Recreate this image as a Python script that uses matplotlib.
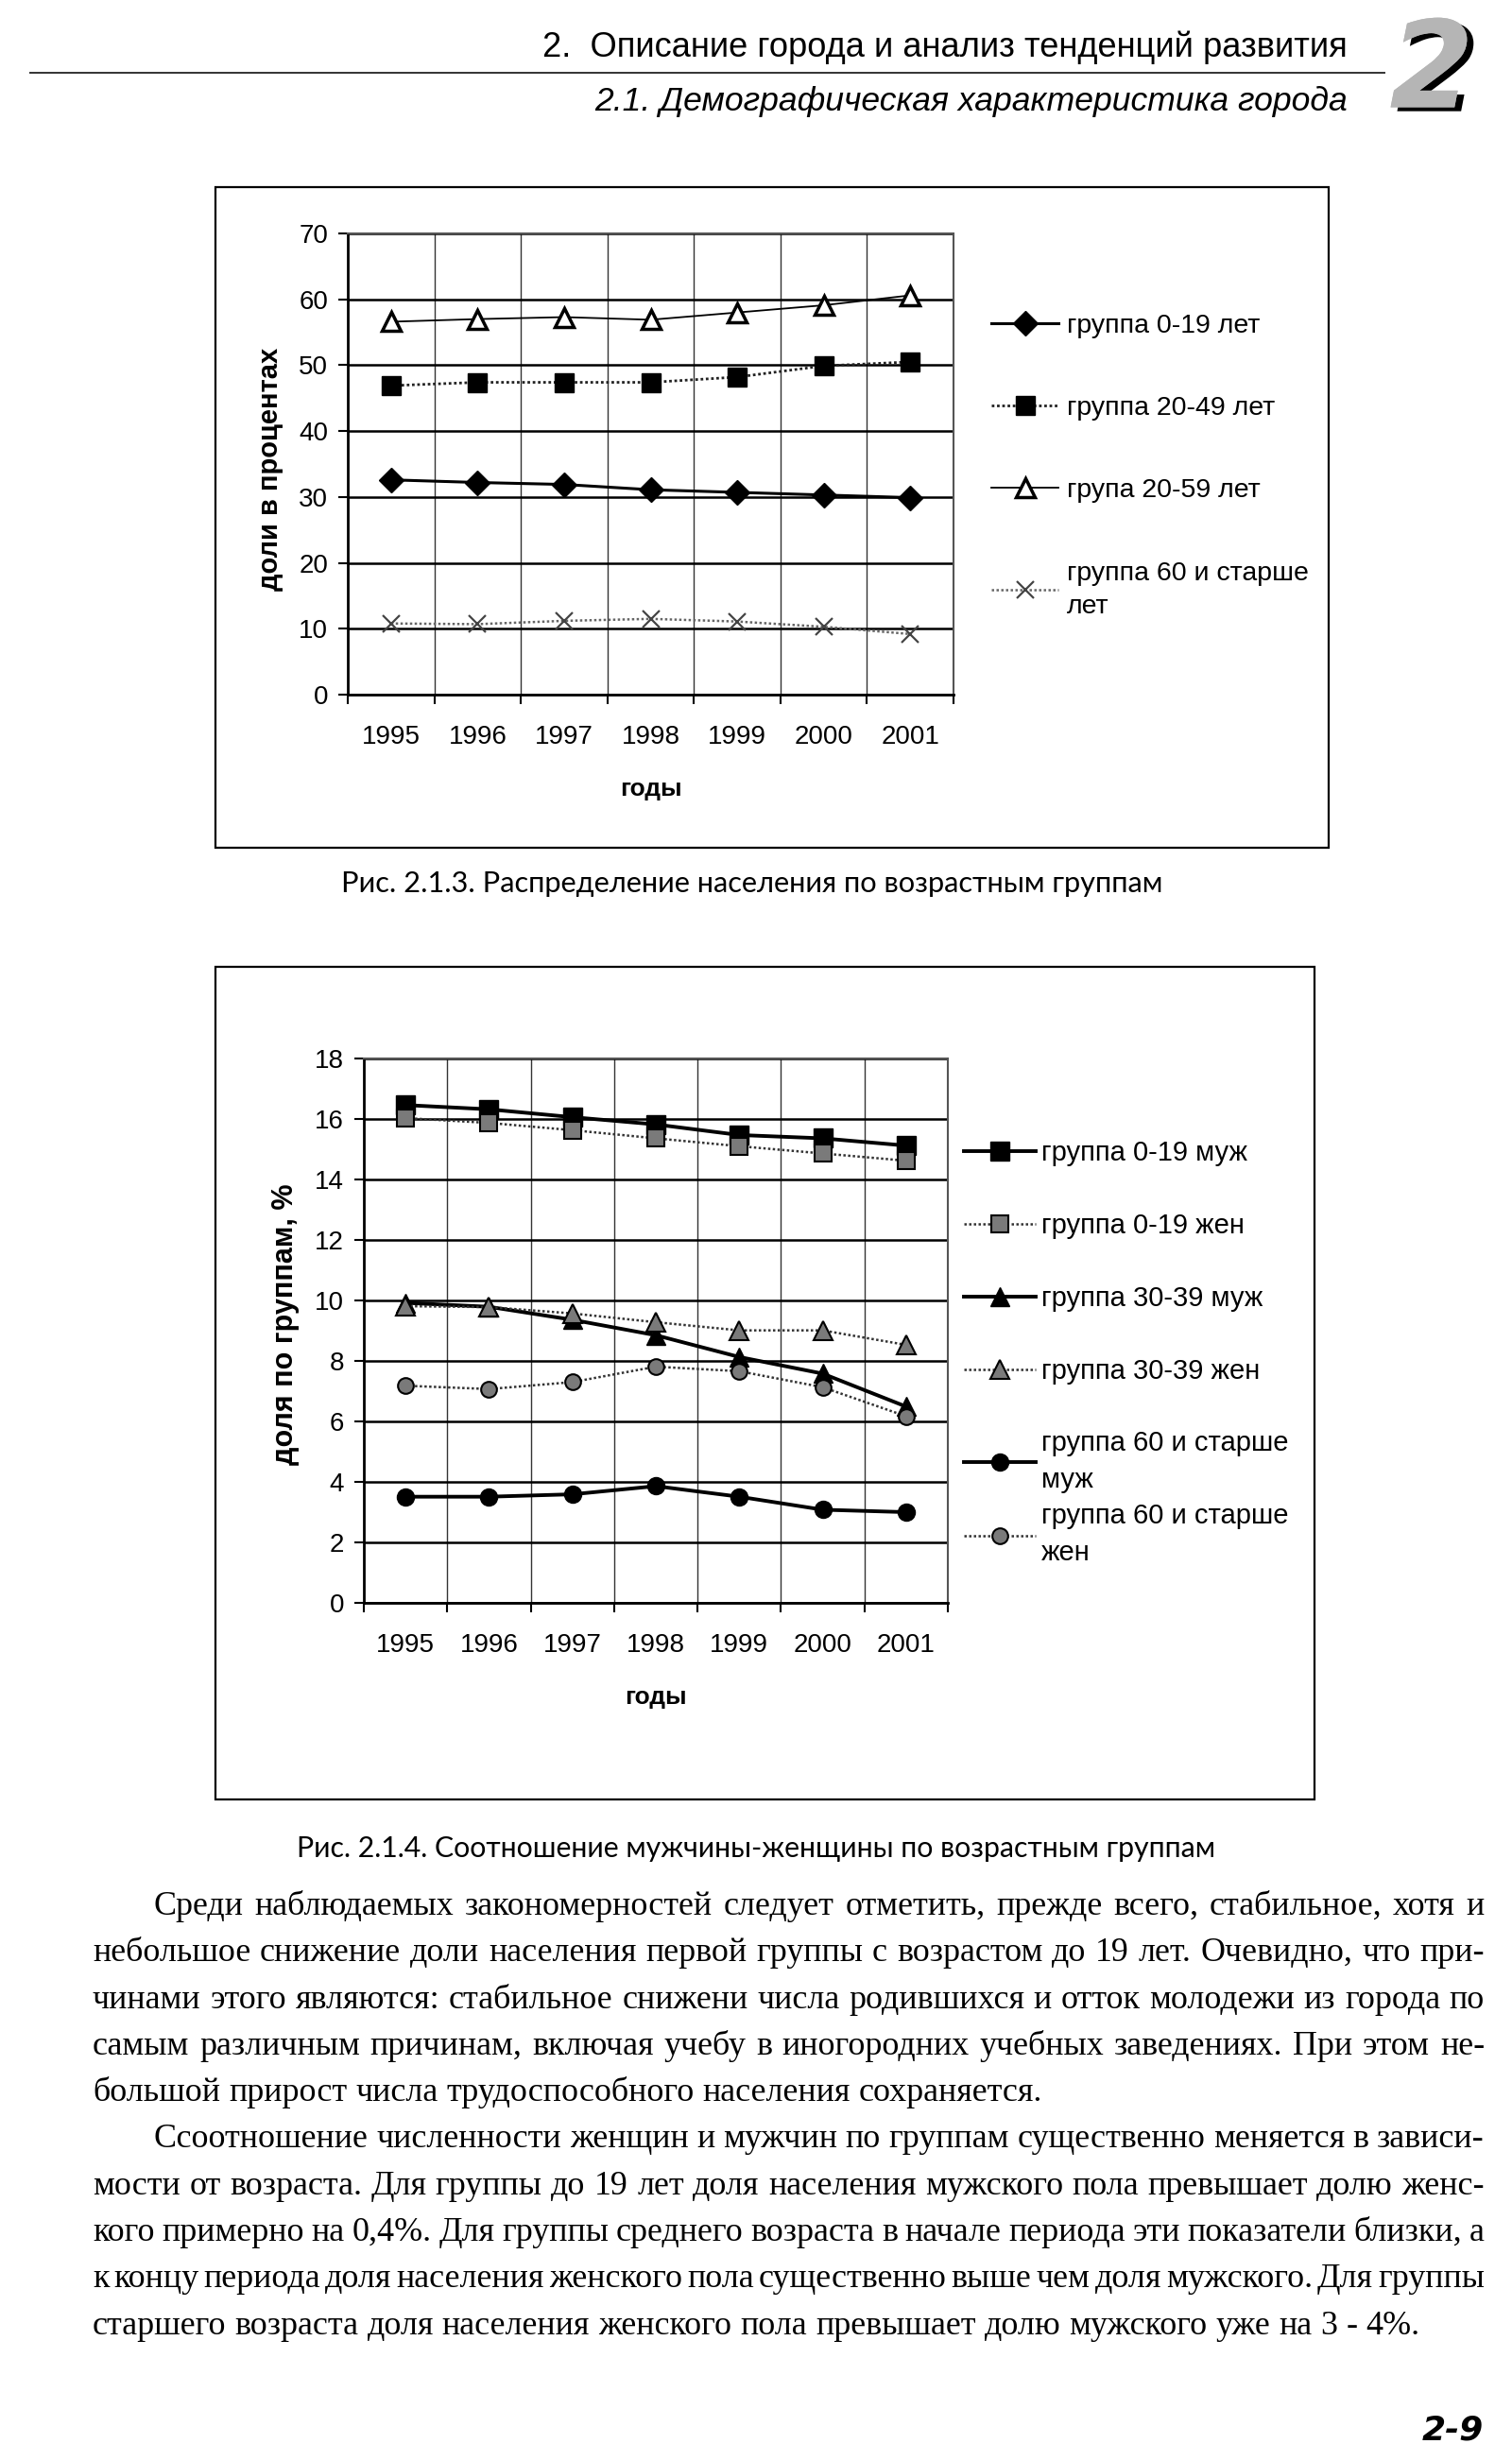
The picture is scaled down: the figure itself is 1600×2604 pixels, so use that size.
import numpy as np
import matplotlib
matplotlib.use('Agg')
import matplotlib.pyplot as plt
from matplotlib.patches import Rectangle
import matplotlib.patheffects as pe

# page size in pixels (dpi 100)
W, H = 1600, 2604

years = ['1995', '1996', '1997', '1998', '1999', '2000', '2001']

# Рис. 2.1.3 - доли возрастных групп, %
age_0_19 = [32.6, 32.2, 31.9, 31.1, 30.7, 30.3, 29.9]
age_20_49 = [46.9, 47.4, 47.4, 47.4, 48.2, 49.9, 50.5]
age_20_59 = [56.6, 57.0, 57.3, 56.9, 58.0, 59.1, 60.6]
age_60 = [10.8, 10.7, 11.2, 11.5, 11.1, 10.3, 9.2]
labels1 = ['группа 0-19 лет', 'группа 20-49 лет', 'група 20-59 лет',
           'группа 60 и старше\nлет']

# Рис. 2.1.4 - мужчины / женщины по группам, %
m_0_19 = [16.46, 16.32, 16.06, 15.82, 15.47, 15.36, 15.12]
f_0_19 = [16.03, 15.87, 15.63, 15.36, 15.10, 14.86, 14.62]
m_30_39 = [9.92, 9.79, 9.36, 8.85, 8.13, 7.58, 6.49]
f_30_39 = [9.81, 9.78, 9.57, 9.28, 9.01, 9.01, 8.53]
m_60 = [3.51, 3.51, 3.59, 3.86, 3.51, 3.08, 3.00]
f_60 = [7.18, 7.07, 7.30, 7.81, 7.66, 7.13, 6.17]
labels2 = ['группа 0-19 муж', 'группа 0-19 жен', 'группа 30-39 муж',
           'группа 30-39 жен', 'группа 60 и старше\nмуж', 'группа 60 и старше\nжен']

header1 = '2.  Описание города и анализ тенденций развития'
header2 = '2.1. Демографическая характеристика города'
caption1 = 'Рис. 2.1.3. Распределение населения по возрастным группам'
caption2 = 'Рис. 2.1.4. Соотношение мужчины-женщины по возрастным группам'
page_no = '2-9'

par1 = [
    'Среди наблюдаемых закономерностей следует отметить, прежде всего, стабильное, хотя и',
    'небольшое снижение доли населения первой группы с возрастом до 19 лет. Очевидно, что при-',
    'чинами этого являются: стабильное снижени числа родившихся и отток молодежи из города по',
    'самым различным причинам, включая учебу в иногородних учебных заведениях. При этом не-',
    'большой прирост числа трудоспособного населения сохраняется.',
]
par2 = [
    'Ссоотношение численности женщин и мужчин по группам существенно меняется в зависи-',
    'мости от возраста. Для группы до 19 лет доля населения мужского пола превышает долю женс-',
    'кого примерно на 0,4%. Для группы среднего возраста в начале периода эти показатели близки, а',
    'к концу периода доля населения женского пола существенно выше чем доля мужского. Для группы',
    'старшего возраста доля населения женского пола превышает долю мужского уже на 3 - 4%.',
]

plt.rcParams['font.family'] = ['Liberation Sans', 'DejaVu Sans']

fig = plt.figure(figsize=(W / 100, H / 100), dpi=100)
renderer = fig.canvas.get_renderer()


def fx(px):
    return px / W


def fy(py):
    return 1 - py / H


def text_w(s, fs, **kw):
    t = fig.text(0, 0, s, fontsize=fs, **kw)
    w = t.get_window_extent(renderer).width
    t.remove()
    return w


def fit_fs(s, target, base, **kw):
    return base * target / text_w(s, base, **kw)


def setup_axes(ax, ymax, ystep):
    x = np.arange(len(years))
    ax.set_xlim(-0.5, len(years) - 0.5)
    ax.set_ylim(0, ymax)
    ax.set_xticks(x)
    ax.set_xticklabels(years)
    ax.set_xticks(np.arange(len(years) + 1) - 0.5, minor=True)
    ax.set_yticks(np.arange(0, ymax + 1, ystep))
    ax.tick_params(axis='x', which='major', length=0, pad=23, labelsize=20)
    ax.tick_params(axis='x', which='minor', length=7, width=1.5, direction='out')
    ax.tick_params(axis='y', length=7, width=1.5, direction='out', pad=8, labelsize=20)
    ax.grid(axis='y', color='black', lw=1.8)
    ax.grid(axis='x', which='minor', color='#333333', lw=1.0)
    ax.set_axisbelow(True)
    for s in ['left', 'bottom']:
        ax.spines[s].set_linewidth(2)
    for s in ['top', 'right']:
        ax.spines[s].set_linewidth(1.5)
        ax.spines[s].set_linestyle((0, (1, 1)))
        ax.spines[s].set_color('#555555')


def box(x0, y0, x1, y1):
    fig.add_artist(Rectangle((fx(x0), fy(y1)), fx(x1) - fx(x0), fy(y0) - fy(y1),
                             transform=fig.transFigure, fill=False, lw=1.6, ec='black'))


def add_legend(ax, handles, labels, x0, ytop, fs, spacing, hlen, pad, lsp=1.2):
    leg = ax.legend(handles, labels, loc='upper left', bbox_to_anchor=(fx(x0), fy(ytop)),
                    bbox_transform=fig.transFigure, frameon=False, borderpad=0,
                    borderaxespad=0, handlelength=hlen, handletextpad=pad,
                    labelspacing=spacing, fontsize=fs)
    for t in leg.get_texts():
        t.set_linespacing(lsp)
    return leg


x = np.arange(len(years))

# ---------- chart 1 ----------
box(228, 198, 1406, 897)
ax1 = fig.add_axes([fx(368), fy(735), (1009 - 368) / W, (735 - 247) / H])
setup_axes(ax1, 70, 10)
h1 = []
h1 += ax1.plot(x, age_0_19, color='black', lw=2.2, marker='D', ms=13)
h1 += ax1.plot(x, age_20_49, color='#222222', lw=2.0, ls=(0, (1, 1)), marker='s', ms=15,
               mfc='black', mec='black')
h1 += ax1.plot(x, age_20_59, color='black', lw=1.3, marker='^', ms=15, mfc='white',
               mec='black', mew=2.5)
h1 += ax1.plot(x, age_60, color='#666666', lw=1.8, ls=(0, (1, 1)), marker='x', ms=13,
               mew=1.6, mec='#444444')
ax1.set_ylabel('доли в процентах', fontsize=21, fontweight='bold')
ax1.yaxis.set_label_coords((286 - 368) / 641, 0.49)
ax1.yaxis.label.set_va('center')
ax1.set_xlabel('годы', fontsize=19, fontweight='bold')
ax1.xaxis.set_label_coords(0.5, (735 - 835) / 488)
ax1.xaxis.label.set_va('center')
add_legend(ax1, h1, labels1, 1049, 332, 20.5, 2.15, 2.5, 0.3, lsp=1.45)

# ---------- chart 2 ----------
box(228, 1023, 1391, 1904)
ax2 = fig.add_axes([fx(385), fy(1696), (1003 - 385) / W, (1696 - 1120) / H])
setup_axes(ax2, 18, 2)
h2 = []
h2 += ax2.plot(x, m_0_19, color='black', lw=2.8, marker='s', ms=14)
h2 += ax2.plot(x, f_0_19, color='#333333', lw=1.8, ls=(0, (1, 1)), marker='s', ms=13,
               mfc='#7a7a7a', mec='black', mew=1.5)
h2 += ax2.plot(x, m_30_39, color='black', lw=2.8, marker='^', ms=14)
h2 += ax2.plot(x, f_30_39, color='#333333', lw=1.8, ls=(0, (1, 1)), marker='^', ms=14,
               mfc='#7a7a7a', mec='black', mew=1.5)
h2 += ax2.plot(x, m_60, color='black', lw=2.8, marker='o', ms=13)
h2 += ax2.plot(x, f_60, color='#333333', lw=1.8, ls=(0, (1, 1)), marker='o', ms=12,
               mfc='#7a7a7a', mec='black', mew=1.5)
ax2.set_ylabel('доля по группам, %', fontsize=22, fontweight='bold')
ax2.yaxis.set_label_coords((302 - 385) / 618, 0.512)
ax2.yaxis.label.set_va('center')
ax2.set_xlabel('годы', fontsize=19, fontweight='bold')
ax2.xaxis.set_label_coords(0.5, (1696 - 1796) / 576)
ax2.xaxis.label.set_va('center')
leg_a = add_legend(ax2, h2[:4], labels2[:4], 1020, 1206, 21, 1.68, 2.6, 0.22)
ax2.add_artist(leg_a)
add_legend(ax2, h2[4:], labels2[4:], 1020, 1513, 21, 0.35, 2.6, 0.22, lsp=1.5)

# ---------- header ----------
hfam = ['Liberation Sans Narrow', 'Liberation Sans', 'DejaVu Sans']
fs_h1 = fit_fs(header1, 852, 30, family=hfam)
fig.text(fx(1426), fy(50), header1, fontsize=fs_h1, family=hfam, ha='right', va='center')
fs_h2 = fit_fs(header2, 795, 30, family=hfam, style='italic')
fig.text(fx(1426), fy(108), header2, fontsize=fs_h2, family=hfam, style='italic',
         ha='right', va='center')
fig.add_artist(plt.Line2D([fx(32), fx(1465)], [fy(77), fy(77)], transform=fig.transFigure,
                          color='#333333', lw=1.4))
fig.text(fx(1515), fy(78), '2', fontsize=92, fontweight='bold', style='italic',
         family='DejaVu Sans', color='#b5b5b5', ha='center', va='center',
         path_effects=[pe.withSimplePatchShadow(offset=(5, -3), shadow_rgbFace='black', alpha=1),
                       pe.Normal()])

# ---------- captions ----------
cfam = ['Lato', 'DejaVu Sans']
fs_c1 = fit_fs(caption1, 873, 20, family=cfam)
fig.text(fx(796), fy(935), caption1, fontsize=fs_c1, family=cfam, ha='center', va='center')
fs_c2 = fit_fs(caption2, 975, 20, family=cfam)
fig.text(fx(800), fy(1956), caption2, fontsize=fs_c2, family=cfam, ha='center', va='center')

# ---------- body text (justified) ----------
bfam = ['Liberation Serif', 'DejaVu Serif']
left, right, indent = 98, 1571, 163
lines = []
for par in [par1, par2]:
    for i, ln in enumerate(par):
        lines.append((ln, i == 0, i == len(par) - 1))

fs_b = 27
need = 0
for ln, first, last in lines:
    words = ln.split(' ')
    nat = sum(text_w(w, fs_b, family=bfam) for w in words) + 0.2 * fs_b * (len(words) - 1)
    avail = right - (indent if first else left)
    if not last:
        need = max(need, nat / avail)
if need > 1:
    fs_b = fs_b / need
space_w = text_w('a a', fs_b, family=bfam) - text_w('aa', fs_b, family=bfam)

y0, dy = 2026, 49.3
for k, (ln, first, last) in enumerate(lines):
    words = ln.split(' ')
    ws = [text_w(w, fs_b, family=bfam) for w in words]
    xs = indent if first else left
    gap = space_w if last else (right - xs - sum(ws)) / (len(words) - 1)
    cx = xs
    for w, ww in zip(words, ws):
        fig.text(fx(cx), fy(y0 + k * dy), w, fontsize=fs_b, family=bfam,
                 ha='left', va='baseline')
        cx += ww + gap

fig.text(fx(1570), fy(2572), page_no, fontsize=26, fontweight='bold', style='italic',
         family='DejaVu Sans', ha='right', va='center')

fig.savefig('out.png', dpi=100)
